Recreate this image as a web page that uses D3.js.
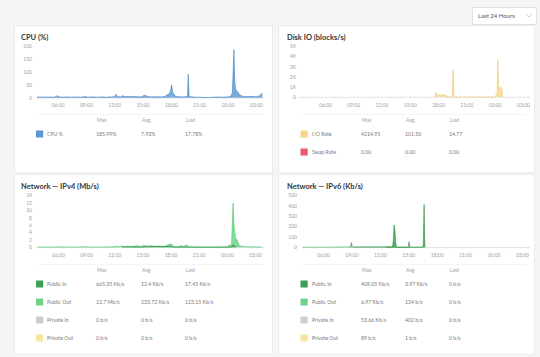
<!DOCTYPE html>
<html><head><meta charset="utf-8">
<script src="https://cdn.jsdelivr.net/npm/d3@7"></script>
<style>
html,body{margin:0;padding:0;background:#f5f5f5;}
svg{display:block;font-family:Lato,"Open Sans",sans-serif;}
</style></head><body>
<svg id="c" width="540" height="357"></svg>
<script>
// ---------- DATA ----------
const xTickLabels = ["06:00","09:00","12:00","15:00","18:00","21:00","00:00","03:00"];
const rangeLabel = "Last 24 Hours";

const cpuTicks = [0,50,100,150,200];
const diskTicks = [0,1000,2000,3000,4000,5000];
const diskTickLabels = ["0","1K","2K","3K","4K","5K"];
const ipv4Ticks = [0,2,4,6,8,10,12,14];
const ipv6Ticks = [0,100,200,300,400,500];

const cpuTimes = ["03:50","04:10","04:30","04:50","05:10","05:30","05:50","06:00","06:10","06:30","07:00","07:30","08:00","08:30","09:00","09:10","09:40","10:10","10:40","11:10","11:40","12:05","12:10","12:20","12:40","12:55","13:05","13:30","13:50","14:10","14:40","15:00","15:10","15:20","15:35","16:00","16:30","17:00","17:20","17:35","17:45","17:55","18:05","18:10","18:20","18:30","18:50","19:20","19:45","19:50","19:55","20:10","20:40","21:00","21:30","22:00","22:30","23:00","23:30","00:00","00:20","00:30","00:40","00:45","00:50","00:55","01:05","01:15","01:30","02:00","02:30","03:00","03:20","03:30","03:40"];
const cpuValues = [3,2,3,2,3,2,4,8,3,2,3,2,3,2,5,2,3,2,3,2,3,4,13,5,3,8,4,5,4,5,3,5,10,8,4,3,4,3,5,10,14,20,49,22,12,6,4,3,5,91,8,3,2,2,1,1,2,3,2,3,5,20,186,65,35,28,22,12,6,4,5,4,6,12,17.78];

const diskTimes = ["03:50","17:40","17:45","17:50","18:00","18:20","18:40","18:55","19:00","19:30","19:35","19:40","00:05","00:10","00:15","00:20","00:25","00:30","00:35","00:45","00:50","03:30","03:40"];
const ioRateValues = [0,0,450,300,200,180,200,150,0,0,2700,0,0,300,150,3700,600,700,950,900,0,0,15];
const swapTimes = ["03:50","03:40"];
const swapValues = [0,0];

const v4OutTimes = ["03:50","04:30","05:10","05:50","06:00","06:10","07:00","08:00","09:00","09:10","10:00","11:00","12:00","12:20","12:30","12:50","13:00","13:30","13:45","14:00","14:30","14:50","15:10","15:30","16:00","16:20","16:40","17:00","17:30","17:50","18:00","18:10","18:20","18:40","19:00","19:10","19:20","19:45","19:55","20:30","21:30","22:30","23:30","00:00","00:30","00:40","00:45","00:50","00:55","01:05","01:15","01:30","02:00","03:00","03:40"];
const v4OutValues = [0.1,0.08,0.1,0.08,0.2,0.08,0.1,0.08,0.15,0.06,0.08,0.1,0.12,0.35,0.1,0.4,0.15,0.3,0.2,0.3,0.4,0.2,0.5,0.3,0.4,0.2,0.35,0.15,0.25,0.8,0.9,0.7,0.2,0.15,0.3,0.5,0.2,0.6,0.2,0.1,0.05,0.08,0.1,0.15,0.8,11.8,6,4.2,2.5,2,0.8,0.3,0.15,0.1,0.12];
const v4InTimes = ["03:50","12:50","13:00","15:10","15:20","18:00","18:10","00:30","00:40","00:50","01:00","03:40"];
const v4InValues = [0.02,0.02,0.15,0.05,0.2,0.3,0.05,0.05,0.67,0.3,0.03,0.02];
const zeroTimes = ["03:50","03:40"];
const zeroValues = [0,0];

const v6InTimes = ["03:50","12:40","12:45","12:50","13:20","13:25","13:30","13:35","13:40","13:45","16:30","16:35","16:40","16:45","16:50","03:40"];
const v6InValues = [0,0,6,0,0,60,213,170,50,0,0,20,409,10,0,0];
const v6PrivInTimes = ["03:50","08:50","08:55","09:00","09:05","09:10","14:55","15:00","15:05","15:10","03:40"];
const v6PrivInValues = [0,0,12,45,8,0,0,10,54,0,0];
const v6OutTimes = ["03:50","13:30","13:35","16:40","16:45","03:40"];
const v6OutValues = [0.05,7,0.1,3,0.05,0.05];

const statHeaders = ["Max","Avg","Last"];
const cpuLegend = ["CPU %"];
const cpuStats = [["185.99%","7.93%","17.78%"]];
const diskLegend = ["I/O Rate","Swap Rate"];
const diskStats = [["4214.95","101.50","14.77"],["0.00","0.00","0.00"]];
const netLegend = ["Public In","Public Out","Private In","Private Out"];
const v4Stats = [["665.35 Kb/s","12.4 Kb/s","17.45 Kb/s"],["12.7 Mb/s","233.72 Kb/s","123.15 Kb/s"],["0 b/s","0 b/s","0 b/s"],["0 b/s","0 b/s","0 b/s"]];
const v6Stats = [["409.05 Kb/s","3.97 Kb/s","0 b/s"],["6.97 Kb/s","124 b/s","0 b/s"],["53.66 Kb/s","402 b/s","0 b/s"],["89 b/s","1 b/s","0 b/s"]];

// ---------- HELPERS ----------
const parseHM = s => { const [h,m] = s.split(":").map(Number); const d = new Date(2020,0,1,h,m); if (h*60+m < 3*60+45) d.setDate(2); return d; };
const zip = (t,v) => t.map((s,i)=>({t:parseHM(s), v:v[i]}));

const svg = d3.select("#c");
svg.append("rect").attr("width",540).attr("height",357).attr("fill","#f5f5f5");

// dropdown
const dd = svg.append("g");
dd.append("rect").attr("x",472.5).attr("y",7.5).attr("width",64).attr("height",17).attr("fill","#fff").attr("stroke","#e2e2e2");
dd.append("text").attr("x",478).attr("y",18).attr("font-size",6).attr("fill","#555").text(rangeLabel);
dd.append("path").attr("d","M526.5,14.5 L529,17 L531.5,14.5").attr("fill","none").attr("stroke","#aaa").attr("stroke-width",0.6);

const colors = {
  cpu:{fill:"#6aa2dc", stroke:"#3f7fc2", sw:"#5b97d6"},
  io:{fill:"#f8dc9c", stroke:"#efc868", sw:"#f8d48a"},
  swap:{fill:"#e8596e", stroke:"#e8596e", sw:"#e8596e"},
  pin:{fill:"#43a85a", stroke:"#2f8f45", sw:"#3d9e55"},
  pout:{fill:"#76d890", stroke:"#4cc46c", sw:"#6dd489"},
  prin:{fill:"#bdb3c0", stroke:"#66706a", sw:"#d3c9d3"},
  prout:{fill:"#f8e3a0", stroke:"#eed27a", sw:"#f8e3a0"}
};

function panel(cfg) {
  const g = svg.append("g");
  g.append("rect").attr("x",cfg.x+0.5).attr("y",cfg.y+0.5).attr("width",cfg.w).attr("height",cfg.h)
    .attr("fill","#fff").attr("stroke","#ebebeb");
  g.append("text").attr("x",cfg.titleX).attr("y",cfg.titleY).attr("font-size",7.5).attr("font-weight",700)
    .attr("fill","#32363c").text(cfg.title);

  const x = d3.scaleTime().domain([parseHM("06:00"), parseHM("03:00")]).range([cfg.x06, cfg.x03]);
  const y = d3.scaleLinear().domain([0, cfg.yMax]).range([cfg.y0, cfg.yTop]);

  // baseline
  g.append("line").attr("x1",cfg.plotX0).attr("x2",cfg.plotX1).attr("y1",y(0)+0.3).attr("y2",y(0)+0.3)
    .attr("stroke","#d6d6d6").attr("stroke-width",0.7);

  // series
  const thr = cfg.yMax * 0.004;
  cfg.series.forEach(s => {
    const data = zip(s.t, s.v);
    const area = d3.area().x(d=>x(d.t)).y0(y(0)).y1(d=>y(d.v));
    const line = d3.line().x(d=>x(d.t)).y(d=>y(d.v))
      .defined((d,i)=> d.v>thr || (i>0 && data[i-1].v>thr) || (i<data.length-1 && data[i+1].v>thr));
    g.append("path").datum(data).attr("d",area).attr("fill",s.c.fill).attr("fill-opacity",0.9);
    g.append("path").datum(data).attr("d",line).attr("fill","none").attr("stroke",s.c.stroke).attr("stroke-width",0.6);
  });

  // y axis
  const ya = g.append("g").attr("transform",`translate(${cfg.yLabelX},0)`)
    .call(d3.axisLeft(y).tickValues(cfg.yTicks).tickSize(0).tickPadding(0)
      .tickFormat((d,i)=> cfg.yTickLabels ? cfg.yTickLabels[i] : d));
  ya.select(".domain").remove();
  ya.selectAll("text").attr("font-size",5).attr("fill","#a0a0a0").attr("font-family","Lato,sans-serif");

  // x axis
  const xa = g.append("g").attr("transform",`translate(0,${cfg.xLabelY})`)
    .call(d3.axisBottom(x).tickValues(xTickLabels.map(parseHM)).tickSize(0).tickPadding(0)
      .tickFormat(d3.timeFormat("%H:%M")));
  xa.select(".domain").remove();
  xa.selectAll("text").attr("font-size",5).attr("fill","#a0a0a0").attr("font-family","Lato,sans-serif");

  // table
  const c = cfg.cols;
  g.append("line").attr("x1",c.sw).attr("x2",cfg.x+cfg.w-8).attr("y1",cfg.headerY-5.5).attr("y2",cfg.headerY-5.5)
    .attr("stroke","#f0f0f0").attr("stroke-width",0.7);
  statHeaders.forEach((h,i)=>{
    g.append("text").attr("x",[c.max,c.avg,c.last][i]+1).attr("y",cfg.headerY).attr("dy","0.35em")
      .attr("font-size",5).attr("fill","#a0a0a0").text(h);
  });
  cfg.legend.forEach((name,r)=>{
    const ry = cfg.rowY0 + r*cfg.rowStep;
    g.append("rect").attr("x",c.sw).attr("y",ry-3.6).attr("width",7.2).attr("height",7.2)
      .attr("fill",cfg.swatches[r]).attr("rx",0.5);
    g.append("text").attr("x",c.label).attr("y",ry).attr("dy","0.35em").attr("font-size",5.2).attr("fill","#7a7a7a").text(name);
    cfg.stats[r].forEach((v,i)=>{
      g.append("text").attr("x",[c.max,c.avg,c.last][i]).attr("y",ry).attr("dy","0.35em")
        .attr("font-size",5.2).attr("fill","#7a7a7a").text(v);
    });
  });
}

const leftCols = {sw:36, label:47, max:96, avg:141, last:185};
const rightCols = {sw:300.5, label:312, max:361, avg:405, last:449};

panel({x:14,y:25,w:258,h:147,title:"CPU (%)",titleX:21,titleY:40,
  x06:57.5,x03:256,plotX0:37,plotX1:264,y0:97.7,yTop:46,yMax:200,yTicks:cpuTicks,yLabelX:32,xLabelY:103,
  series:[{t:cpuTimes,v:cpuValues,c:colors.cpu}],
  cols:leftCols,headerY:120,rowY0:134,rowStep:18,legend:cpuLegend,stats:cpuStats,swatches:[colors.cpu.sw]});

panel({x:278,y:25,w:256,h:147,title:"Disk IO (blocks/s)",titleX:287,titleY:40,
  x06:325,x03:523,plotX0:299,plotX1:530,y0:97,yTop:46,yMax:5000,yTicks:diskTicks,yTickLabels:diskTickLabels,yLabelX:296,xLabelY:103,
  series:[{t:swapTimes,v:swapValues,c:colors.swap},{t:diskTimes,v:ioRateValues,c:colors.io}],
  cols:rightCols,headerY:120,rowY0:134,rowStep:18,legend:diskLegend,stats:diskStats,swatches:[colors.io.sw,colors.swap.sw]});

panel({x:14,y:174,w:258,h:180,title:"Network — IPv4 (Mb/s)",titleX:21,titleY:189,
  x06:58,x03:255,plotX0:36,plotX1:264,y0:247.3,yTop:195,yMax:14,yTicks:ipv4Ticks,yLabelX:32,xLabelY:253,
  series:[{t:zeroTimes,v:zeroValues,c:colors.prout},{t:zeroTimes,v:zeroValues,c:colors.prin},
          {t:v4OutTimes,v:v4OutValues,c:colors.pout},{t:v4InTimes,v:v4InValues,c:colors.pin}],
  cols:leftCols,headerY:270,rowY0:284,rowStep:18,legend:netLegend,stats:v4Stats,
  swatches:[colors.pin.sw,colors.pout.sw,colors.prin.sw,colors.prout.sw]});

panel({x:278,y:174,w:256,h:180,title:"Network — IPv6 (Kb/s)",titleX:287,titleY:189,
  x06:323,x03:522,plotX0:302,plotX1:530,y0:247.3,yTop:195,yMax:500,yTicks:ipv6Ticks,yLabelX:297,xLabelY:253,
  series:[{t:zeroTimes,v:zeroValues,c:colors.prout},{t:v6PrivInTimes,v:v6PrivInValues,c:colors.prin},
          {t:v6OutTimes,v:v6OutValues,c:colors.pout},{t:v6InTimes,v:v6InValues,c:colors.pin}],
  cols:rightCols,headerY:270,rowY0:284,rowStep:18,legend:netLegend,stats:v6Stats,
  swatches:[colors.pin.sw,colors.pout.sw,colors.prin.sw,colors.prout.sw]});
</script>
</body></html>
